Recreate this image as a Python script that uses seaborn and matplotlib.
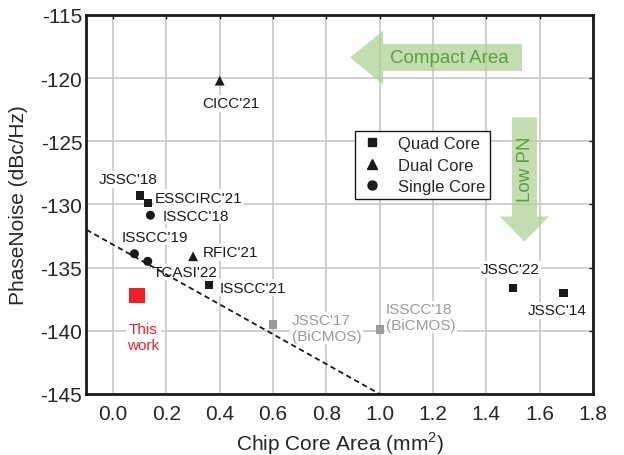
import matplotlib
matplotlib.use("Agg")
import matplotlib.pyplot as plt
import seaborn as sns
import pandas as pd
from matplotlib.lines import Line2D
from matplotlib.patches import Polygon

# ---- data ----
black_labels = ["JSSC'18", "ESSCIRC'21", "ISSCC'18", "ISSCC'19", "TCASI'22",
                "RFIC'21", "ISSCC'21", "CICC'21", "JSSC'22", "JSSC'14"]
black_area = [0.10, 0.13, 0.14, 0.08, 0.13, 0.30, 0.36, 0.40, 1.50, 1.69]
black_pn = [-129.3, -129.9, -130.85, -133.9, -134.5, -134.1, -136.4, -120.2, -136.6, -137.0]
black_core = ["Quad Core", "Quad Core", "Single Core", "Single Core", "Single Core",
              "Dual Core", "Quad Core", "Dual Core", "Quad Core", "Quad Core"]

gray_labels = ["JSSC'17\n(BiCMOS)", "ISSCC'18\n(BiCMOS)"]
gray_area = [0.60, 1.00]
gray_pn = [-139.5, -139.9]

this_area = [0.09]
this_pn = [-137.2]

trend_x = [-0.1, 1.0]
trend_y = [-132.0, -145.0]

xticks = [0.0, 0.2, 0.4, 0.6, 0.8, 1.0, 1.2, 1.4, 1.6, 1.8]
yticks = [-145, -140, -135, -130, -125, -120, -115]

# ---- style ----
sns.set_style("white")
plt.rcParams['font.family'] = ['Liberation Sans', 'DejaVu Sans']
plt.rcParams['mathtext.fontset'] = 'custom'
plt.rcParams['mathtext.rm'] = 'Liberation Sans'

fig = plt.figure(figsize=(6.24, 4.56), dpi=100)
ax = fig.add_axes([0.1385, 0.1338, 0.8118, 0.8312])

markers = {"Quad Core": "s", "Dual Core": "^", "Single Core": "o"}
sizes = {"Quad Core": 36, "Dual Core": 50, "Single Core": 42}

df = pd.DataFrame({"area": black_area, "pn": black_pn, "core": black_core, "label": black_labels})
for core, sub in df.groupby("core"):
    sns.scatterplot(data=sub, x="area", y="pn", marker=markers[core], s=sizes[core],
                    color="#1a1a1a", edgecolor="none", ax=ax, legend=False, zorder=5)

gdf = pd.DataFrame({"area": gray_area, "pn": gray_pn})
sns.scatterplot(data=gdf, x="area", y="pn", marker="s", s=36, color="#9a9a9a",
                edgecolor="none", ax=ax, legend=False, zorder=5)

tdf = pd.DataFrame({"area": this_area, "pn": this_pn})
sns.scatterplot(data=tdf, x="area", y="pn", marker="s", s=130, color="#ee2028",
                edgecolor="none", ax=ax, legend=False, zorder=5)

ldf = pd.DataFrame({"x": trend_x, "y": trend_y})
sns.lineplot(data=ldf, x="x", y="y", ax=ax, color="#1a1a1a", lw=1.3,
             linestyle=(0, (3, 2)), zorder=4)

# ---- annotations ----
fs = 11
bb = dict(facecolor="white", edgecolor="none", pad=1.0)
def lab(x, y, s, ha="left", color="#1a1a1a"):
    ax.text(x, y, s, ha=ha, va="center", fontsize=fs, color=color,
            linespacing=1.15, bbox=bb, zorder=3)

lab(0.056, -128.0, black_labels[0], ha="center")
lab(0.157, -129.45, black_labels[1])
lab(0.186, -130.9, black_labels[2])
lab(0.157, -132.55, black_labels[3], ha="center")
lab(0.149, -135.35, black_labels[4])
lab(0.336, -133.8, black_labels[5])
lab(0.401, -136.6, black_labels[6])
lab(0.44, -122.0, black_labels[7], ha="center")
lab(1.491, -135.13, black_labels[8], ha="center")
lab(1.666, -138.39, black_labels[9], ha="center")
lab(0.67, -139.79, gray_labels[0], color="#9a9a9a")
lab(1.024, -138.9, gray_labels[1], color="#9a9a9a")
lab(0.114, -140.5, "This\nwork", ha="center", color="#ee2028")

# ---- arrows ----
green = "#a9d18e"
ax.add_patch(Polygon([(0.889, -118.37), (1.013, -116.23), (1.013, -117.3), (1.534, -117.3),
                      (1.534, -119.44), (1.013, -119.44), (1.013, -120.51)],
                     closed=True, facecolor=green, edgecolor="none", alpha=0.7, zorder=3))
ax.text(1.262, -118.36, "Compact Area", ha="center", va="center", fontsize=13.5,
        color="#5e9c45", zorder=4)
ax.add_patch(Polygon([(1.496, -123.1), (1.590, -123.1), (1.590, -130.95), (1.635, -130.95),
                      (1.543, -132.94), (1.451, -130.95), (1.496, -130.95)],
                     closed=True, facecolor=green, edgecolor="none", alpha=0.7, zorder=3))
ax.text(1.545, -127.1, "Low PN", ha="center", va="center", fontsize=13.5,
        color="#5e9c45", rotation=90, zorder=4)

# ---- legend ----
handles = [Line2D([], [], marker="s", color="#1a1a1a", ls="none", markersize=6),
           Line2D([], [], marker="^", color="#1a1a1a", ls="none", markersize=7),
           Line2D([], [], marker="o", color="#1a1a1a", ls="none", markersize=6.5)]
leg = ax.legend(handles, ["Quad Core", "Dual Core", "Single Core"], loc="upper left",
                bbox_to_anchor=(0.530, 0.694), fontsize=12, frameon=True, fancybox=False,
                edgecolor="#1a1a1a", framealpha=1, borderpad=0.3, labelspacing=0.4,
                handletextpad=0.8, handlelength=1.5, borderaxespad=0)
leg.get_frame().set_linewidth(1.0)
leg.set_zorder(6)

# ---- axes ----
ax.set_xlim(-0.1, 1.8)
ax.set_ylim(-145, -115)
ax.set_xticks(xticks)
ax.set_xticklabels([f"{v:.1f}" for v in xticks])
ax.set_yticks(yticks)
ax.set_yticklabels([str(v) for v in yticks])
ax.grid(True, color="#c8c8c8", lw=1.2)
ax.set_axisbelow(True)
ax.tick_params(direction="in", length=3, width=1, top=True, right=True,
               labelsize=15, color="#1a1a1a")
ax.tick_params(axis="x", pad=7)
ax.tick_params(axis="y", pad=3)
for s in ax.spines.values():
    s.set_linewidth(2)
    s.set_color("#1a1a1a")
ax.set_xlabel("Chip Core Area (mm$^2$)", fontsize=15, labelpad=5)
ax.set_ylabel("PhaseNoise (dBc/Hz)", fontsize=15, labelpad=9)

fig.savefig("out.png", dpi=100)
